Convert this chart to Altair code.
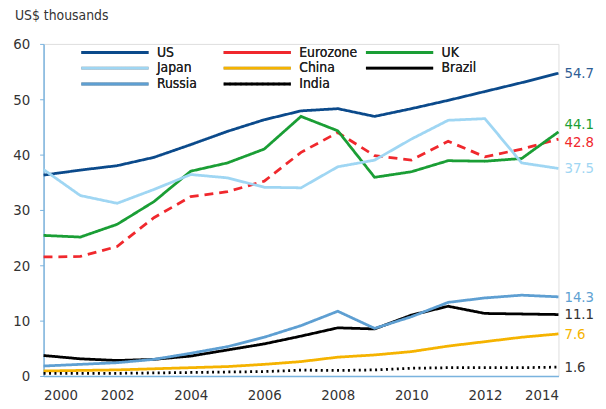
import altair as alt
import pandas as pd

years = list(range(2000, 2015))
series_names = ["US", "Eurozone", "UK", "Japan", "China", "Brazil", "Russia", "India"]
us = [36.3, 37.2, 38.0, 39.5, 41.8, 44.2, 46.3, 47.9, 48.3, 46.9, 48.3, 49.8, 51.4, 53.0, 54.7]
eurozone = [21.5, 21.6, 23.4, 28.6, 32.4, 33.3, 35.2, 40.4, 44.0, 39.8, 39.0, 42.4, 39.6, 41.0, 42.8]
uk = [25.4, 25.1, 27.4, 31.5, 37.0, 38.5, 41.0, 46.9, 44.3, 35.9, 36.9, 38.9, 38.8, 39.3, 44.1]
japan = [37.3, 32.6, 31.2, 33.7, 36.4, 35.8, 34.1, 34.0, 37.8, 39.0, 42.8, 46.2, 46.5, 38.5, 37.5]
china = [0.9, 1.0, 1.1, 1.3, 1.5, 1.7, 2.1, 2.6, 3.4, 3.8, 4.4, 5.4, 6.2, 7.0, 7.6]
brazil = [3.7, 3.1, 2.8, 3.0, 3.6, 4.7, 5.8, 7.2, 8.7, 8.5, 11.0, 12.6, 11.3, 11.2, 11.1]
russia = [1.8, 2.1, 2.4, 3.0, 4.1, 5.3, 7.0, 9.1, 11.7, 8.6, 10.7, 13.3, 14.1, 14.6, 14.3]
india = [0.45, 0.46, 0.48, 0.55, 0.63, 0.72, 0.8, 1.05, 1.0, 1.1, 1.4, 1.5, 1.5, 1.5, 1.6]
end_labels = ["54.7", "42.8", "44.1", "37.5", "7.6", "11.1", "14.3", "1.6"]
line_colors = ["#0b4a8b", "#f0282d", "#1a9e35", "#9fd6f3", "#f5b300", "#000000", "#5e9fd2", "#000000"]
label_colors = ["#2e5d95", "#f0282d", "#1a9e35", "#9fd6f3", "#f5b300", "#333333", "#5e9fd2", "#333333"]
dashes = [[1, 0], [9, 6], [1, 0], [1, 0], [1, 0], [1, 0], [1, 0], [2, 3.5]]

values = [us, eurozone, uk, japan, china, brazil, russia, india]
rows = []
for name, vals in zip(series_names, values):
    for y, v in zip(years, vals):
        rows.append({"year": y, "value": v, "series": name})
df = pd.DataFrame(rows)

lab_rows = []
for name, vals, lab, col in zip(series_names, values, end_labels, label_colors):
    lab_rows.append({"year": years[-1], "value": vals[-1], "series": name, "label": lab, "lc": col})
ldf = pd.DataFrame(lab_rows)

FONT = "Liberation Sans Narrow, DejaVu Sans Condensed, Roboto, sans-serif"

x_enc = alt.X("year:Q", scale=alt.Scale(domain=[2000, 2014], nice=False),
              axis=alt.Axis(values=list(range(2000, 2015, 2)), format="d", title=None,
                            grid=False, ticks=False, domainColor="#7ab3de", domainWidth=1.5,
                            labelFont=FONT, labelFontSize=15, labelColor="#333333", labelPadding=12))
y_enc = alt.Y("value:Q", scale=alt.Scale(domain=[0, 60], nice=False),
              axis=alt.Axis(values=[0, 10, 20, 30, 40, 50, 60], title=None, grid=False,
                            ticks=True, tickSize=4, tickColor="#7ab3de", domainColor="#7ab3de",
                            domainWidth=1.5, labelFont=FONT, labelFontSize=15,
                            labelColor="#333333", labelPadding=10))

leg = alt.Legend(title=None, orient="none", legendX=36, legendY=0,
                 direction="horizontal", columns=3, columnPadding=2, gridAlign="all",
                 rowPadding=0, symbolType="M-5,0H5", symbolSize=185, symbolOffset=27.7,
                 symbolStrokeWidth=3, labelFont=FONT, labelFontSize=14,
                 labelColor="#222222", labelLimit=200, labelOffset=34, symbolLimit=0)

lines = alt.Chart(df).mark_line(strokeWidth=2.8).encode(
    x=x_enc,
    y=y_enc,
    color=alt.Color("series:N", scale=alt.Scale(domain=series_names, range=line_colors),
                    sort=series_names, legend=leg),
    strokeDash=alt.StrokeDash("series:N", scale=alt.Scale(domain=series_names, range=dashes),
                              sort=series_names, legend=leg),
    detail="series:N",
    order="year:Q",
)


def label_layer(expr, dy):
    return alt.Chart(ldf).transform_filter(expr).mark_text(
        align="left", baseline="middle", dx=6, dy=dy, font=FONT, fontSize=15
    ).encode(
        x=alt.X("year:Q", scale=alt.Scale(domain=[2000, 2014], nice=False)),
        y=alt.Y("value:Q", scale=alt.Scale(domain=[0, 60], nice=False)),
        text="label:N",
        color=alt.Color("lc:N", scale=None),
    )


lab_main = label_layer("datum.series != 'UK' && datum.series != 'Eurozone'", 0)
lab_uk = label_layer("datum.series == 'UK'", -8)
lab_ez = label_layer("datum.series == 'Eurozone'", 3)

title = alt.Chart(pd.DataFrame({"t": ["US$ thousands"]})).mark_text(
    align="left", baseline="middle", font=FONT, fontSize=14, color="#333333"
).encode(x=alt.value(-29), y=alt.value(-28), text="t:N")

chart = alt.layer(lines, lab_main, lab_uk, lab_ez, title).resolve_scale(color="independent").properties(
    width=521, height=336,
    autosize=alt.AutoSizeParams(type="none"),
    padding={"left": 36, "top": 34, "right": 40, "bottom": 25},
).configure_view(stroke=None).configure(background="white")

chart.save("out.html", embed_options={"renderer": "svg", "actions": False})
